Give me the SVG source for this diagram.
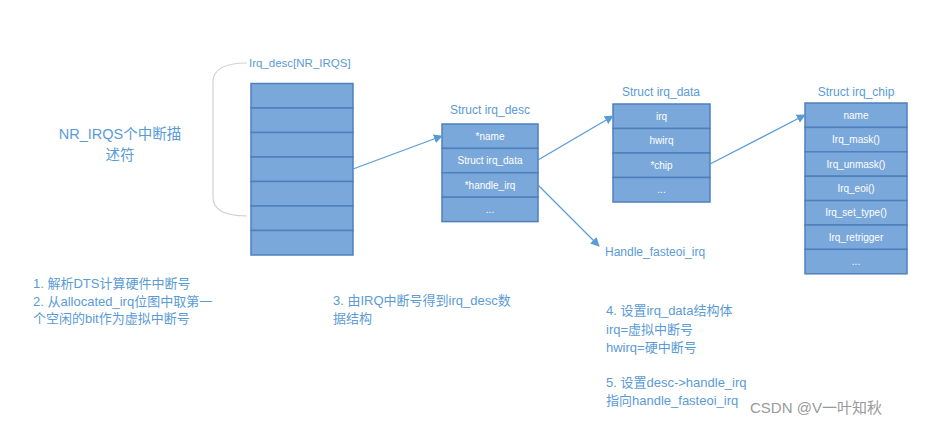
<svg xmlns="http://www.w3.org/2000/svg" width="928" height="426" viewBox="0 0 928 426">
<defs>
<style>
.cell{fill:#7BA8DA;stroke:#4F80BD;stroke-width:1.5}
.ct{font-family:"Liberation Sans","Noto Sans CJK SC",sans-serif;font-size:10px;fill:#ffffff;text-anchor:middle}
.t{font-family:"Liberation Sans","Noto Sans CJK SC",sans-serif;fill:#5B9BD5}
.title{font-size:12px;text-anchor:middle}
.note{font-size:13px}
.conn{fill:none;stroke:#5B9BD5;stroke-width:1.3}
</style>
<marker id="ah" viewBox="0 0 10 10" refX="9" refY="5" markerWidth="9" markerHeight="9" orient="auto" markerUnits="userSpaceOnUse">
<path d="M0,0 L10,5 L0,10 z" fill="#5B9BD5"/>
</marker>
</defs>
<rect width="928" height="426" fill="#ffffff"/>

<g id="nr-irqs-label">
<text class="t" x="120" y="139" font-size="14.5" text-anchor="middle">NR_IRQS个中断描</text>
<text class="t" x="120" y="160" font-size="14.5" text-anchor="middle">述符</text>
<path d="M247,63 C228,63 213,68 213,82 L213,197 C213,211 228,216 247,216" fill="none" stroke="#d2d2d2" stroke-width="1.2"/>
</g>

<g id="irq-desc-array">
<text class="t" x="249" y="67" font-size="11.5">Irq_desc[NR_IRQS]</text>
<rect class="cell" x="251" y="83.5" width="102" height="24.5"/>
<rect class="cell" x="251" y="108" width="102" height="24.5"/>
<rect class="cell" x="251" y="132.5" width="102" height="24.5"/>
<rect class="cell" x="251" y="157" width="102" height="24.5"/>
<rect class="cell" x="251" y="181.5" width="102" height="24.5"/>
<rect class="cell" x="251" y="206" width="102" height="24.5"/>
<rect class="cell" x="251" y="230.5" width="102" height="24.5"/>
</g>

<g id="struct-irq-desc">
<text class="t title" x="490" y="114">Struct irq_desc</text>
<rect class="cell" x="442" y="124" width="96" height="24.4"/>
<rect class="cell" x="442" y="148.4" width="96" height="24.4"/>
<rect class="cell" x="442" y="172.8" width="96" height="24.4"/>
<rect class="cell" x="442" y="197.2" width="96" height="24.4"/>
<text class="ct" x="490" y="139.7">*name</text>
<text class="ct" x="490" y="164.1">Struct irq_data</text>
<text class="ct" x="490" y="188.5">*handle_irq</text>
<text class="ct" x="490" y="212.9">...</text>
</g>

<g id="struct-irq-data">
<text class="t title" x="661" y="96">Struct irq_data</text>
<rect class="cell" x="613" y="104" width="97" height="24.5"/>
<rect class="cell" x="613" y="128.5" width="97" height="24.5"/>
<rect class="cell" x="613" y="153" width="97" height="24.5"/>
<rect class="cell" x="613" y="177.5" width="97" height="24.5"/>
<text class="ct" x="661.5" y="119.8">irq</text>
<text class="ct" x="661.5" y="144.3">hwirq</text>
<text class="ct" x="661.5" y="168.8">*chip</text>
<text class="ct" x="661.5" y="193.3">...</text>
</g>

<g id="struct-irq-chip">
<text class="t title" x="856" y="96">Struct irq_chip</text>
<rect class="cell" x="805" y="103" width="102" height="24.4"/>
<rect class="cell" x="805" y="127.4" width="102" height="24.4"/>
<rect class="cell" x="805" y="151.8" width="102" height="24.4"/>
<rect class="cell" x="805" y="176.2" width="102" height="24.4"/>
<rect class="cell" x="805" y="200.6" width="102" height="24.4"/>
<rect class="cell" x="805" y="225" width="102" height="24.4"/>
<rect class="cell" x="805" y="249.4" width="102" height="24.4"/>
<text class="ct" x="856" y="118.7">name</text>
<text class="ct" x="856" y="143.1">Irq_mask()</text>
<text class="ct" x="856" y="167.5">Irq_unmask()</text>
<text class="ct" x="856" y="191.9">Irq_eoi()</text>
<text class="ct" x="856" y="216.3">Irq_set_type()</text>
<text class="ct" x="856" y="240.7">Irq_retrigger</text>
<text class="ct" x="856" y="265.1">...</text>
</g>

<g id="handle-fasteoi">
<text class="t" x="605" y="256" font-size="12">Handle_fasteoi_irq</text>
</g>

<g id="connectors">
<line class="conn" x1="353" y1="169" x2="442" y2="136" marker-end="url(#ah)"/>
<line class="conn" x1="538" y1="160" x2="613" y2="116" marker-end="url(#ah)"/>
<line class="conn" x1="538" y1="185" x2="599" y2="246" marker-end="url(#ah)"/>
<line class="conn" x1="710" y1="164" x2="805" y2="115" marker-end="url(#ah)"/>
</g>

<g id="notes">
<text class="t note" x="33" y="288">1. 解析DTS计算硬件中断号</text>
<text class="t note" x="33" y="305.5">2. 从allocated_irq位图中取第一</text>
<text class="t note" x="33" y="323">个空闲的bit作为虚拟中断号</text>
<text class="t note" x="333" y="305">3. 由IRQ中断号得到irq_desc数</text>
<text class="t note" x="333" y="322.5">据结构</text>
<text class="t note" x="606" y="315">4. 设置irq_data结构体</text>
<text class="t note" x="606" y="333.5">irq=虚拟中断号</text>
<text class="t note" x="606" y="352">hwirq=硬中断号</text>
<text class="t note" x="606" y="387">5. 设置desc-&gt;handle_irq</text>
<text class="t note" x="606" y="405">指向handle_fasteoi_irq</text>
</g>

<text x="750" y="413" font-family="'Liberation Sans','Noto Sans CJK SC',sans-serif" font-size="15" fill="#9a9a9a">CSDN @V一叶知秋</text>
</svg>
